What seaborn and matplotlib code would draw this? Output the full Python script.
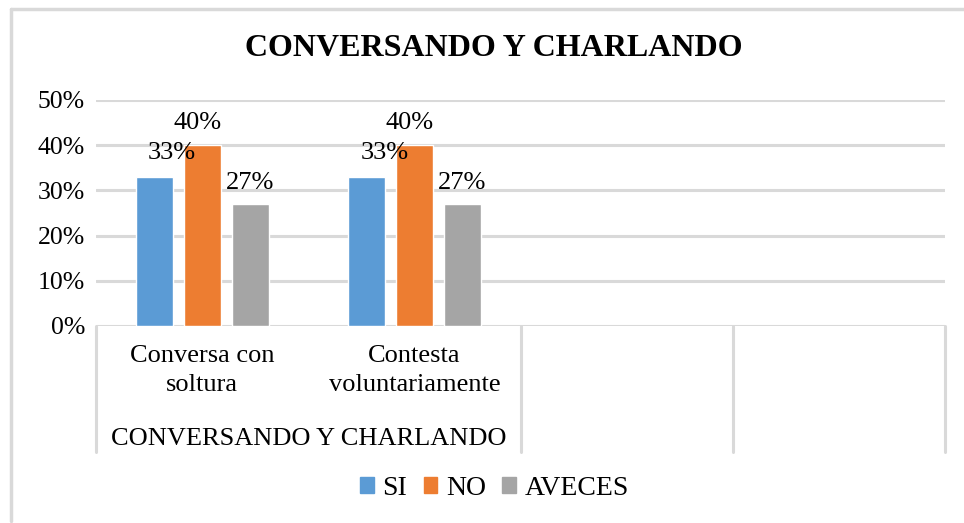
import numpy as np
import pandas as pd
import matplotlib
matplotlib.use("Agg")
import matplotlib.pyplot as plt
from matplotlib.patches import Patch
import seaborn as sns

# chart data
categories = ["Conversa con\nsoltura", "Contesta\nvoluntariamente"]
empty_slots = [" ", "  "]
series = ["SI", "NO", "AVECES"]
si_vals = [0.33, 0.33]
no_vals = [0.40, 0.40]
aveces_vals = [0.27, 0.27]
group_label = "CONVERSANDO Y CHARLANDO"
title = "CONVERSANDO Y CHARLANDO"
yticks = [0, 0.1, 0.2, 0.3, 0.4, 0.5]

df = pd.DataFrame({
    "cat": categories * 3,
    "serie": ["SI"] * 2 + ["NO"] * 2 + ["AVECES"] * 2,
    "val": si_vals + no_vals + aveces_vals,
})

sns.set_theme(style="white")
plt.rcParams["font.family"] = ["Liberation Serif", "DejaVu Serif"]
plt.rcParams["text.color"] = "black"
plt.rcParams["xtick.color"] = "black"
plt.rcParams["ytick.color"] = "black"

colors = ["#5B9BD5", "#ED7D31", "#A5A5A5"]
grid_c = "#D9D9D9"
fs = 19

fig = plt.figure(figsize=(9.64, 5.23), dpi=100)
ax = fig.add_axes([0.0996, 0.3767, 0.8807, 0.4321])

sns.barplot(data=df, x="cat", y="val", hue="serie", hue_order=series,
            order=categories + empty_slots, palette=colors,
            width=0.68, gap=0.23, saturation=1, ax=ax, legend=False)

ax.set_ylim(0, 0.5)
ax.set_xlim(-0.5, 3.5)
ax.set_yticks(yticks)
ax.set_yticklabels([f"{int(round(v*100))}%" for v in yticks], fontsize=18.5)
ax.set_xticklabels(categories + empty_slots, fontsize=fs, linespacing=1.4)
ax.tick_params(axis="x", length=0, pad=14)
ax.tick_params(axis="y", length=0, pad=8)
ax.set_xlabel("")
ax.set_ylabel("")
for s in ax.spines.values():
    s.set_visible(False)
for y in yticks:
    ax.axhline(y, color=grid_c, lw=2.2, zorder=0)

# data labels, Excel-like placement
offsets = [(18, 24), (-5, 22), (0, 21)]
for cont, (dx, dy) in zip(ax.containers, offsets):
    for bar in cont:
        h = bar.get_height()
        if np.isnan(h):
            continue
        ax.annotate(f"{int(round(h*100))}%",
                    (bar.get_x() + bar.get_width() / 2, h),
                    xytext=(dx, dy), textcoords="offset pixels",
                    ha="center", va="center", fontsize=fs, zorder=5)

# multi-level category axis separators
trans = ax.get_xaxis_transform()
for xb in [-0.5, 1.5, 2.5, 3.5]:
    ax.plot([xb, xb], [0, -0.557], transform=trans, color=grid_c,
            lw=2.2, clip_on=False)
ax.text(0.5, -0.5, group_label, transform=trans, ha="center",
        va="center", fontsize=fs)

# title
fig.text(0.512, 0.908, title, ha="center", va="center", fontsize=23,
         fontweight="bold")

# legend
handles = [Patch(color=c, label=s) for c, s in zip(colors, series)]
fig.legend(handles=handles, loc="center", bbox_to_anchor=(0.513, 0.066),
           ncol=3, frameon=False, fontsize=20, handlelength=0.5,
           handleheight=0.5, handletextpad=0.3, columnspacing=0.6)

# outer chart border
fig.add_artist(plt.Line2D([0.0115, 0.0115], [0.003, 0.983], color=grid_c,
                          lw=2.5, transform=fig.transFigure))
fig.add_artist(plt.Line2D([0.0115, 1.0], [0.983, 0.983], color=grid_c,
                          lw=2.5, transform=fig.transFigure))

fig.savefig("out.png", dpi=100, facecolor="white")
